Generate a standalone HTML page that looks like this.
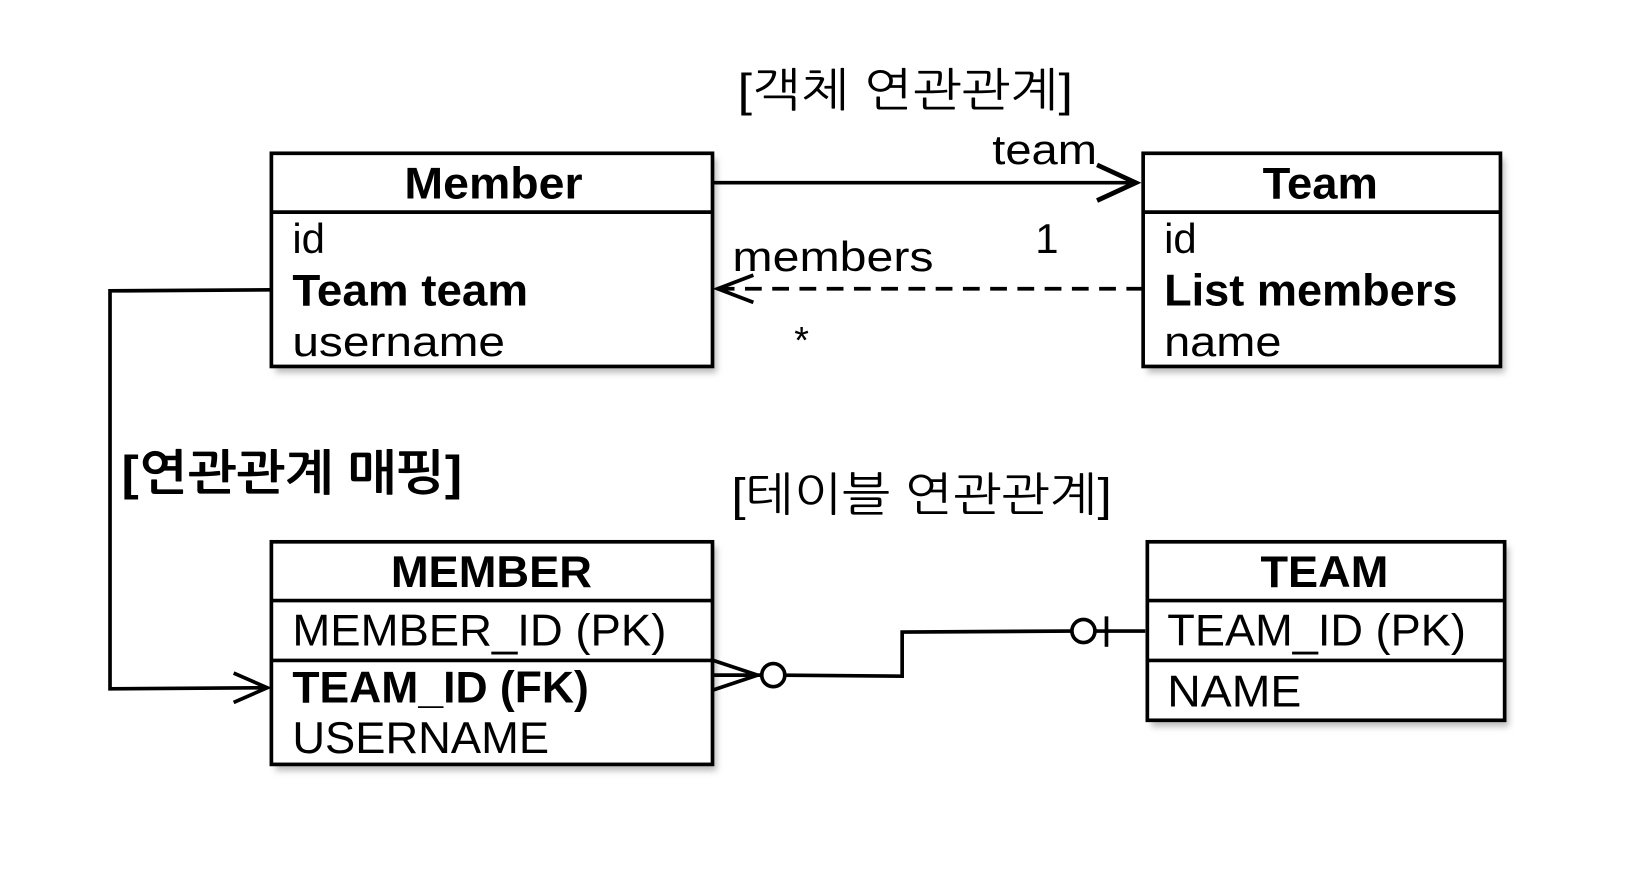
<!DOCTYPE html>
<html><head><meta charset="utf-8"><style>
html,body{margin:0;padding:0;background:#fff;}
svg{display:block;}
text{font-family:"Liberation Sans","NanumGothic","Noto Sans CJK KR",sans-serif;fill:#000;}
.b{font-weight:bold;}
</style></head><body>
<svg width="1644" height="882" viewBox="-1 -1 1569 840" preserveAspectRatio="none" xmlns="http://www.w3.org/2000/svg">
<defs><filter id="sh" x="-5%" y="-5%" width="115%" height="120%"><feGaussianBlur stdDeviation="3"/></filter></defs>
<g fill="#bbb" filter="url(#sh)">
<rect x="262" y="150" width="421" height="204"/>
<rect x="1094" y="150" width="341" height="204"/>
<rect x="262" y="520" width="421" height="213"/>
<rect x="1098" y="520" width="341" height="171"/>
</g>
<g fill="#fff" stroke="#000" stroke-width="3.5">
<rect x="258" y="145" width="421" height="203"/>
<rect x="1090" y="145" width="341" height="203"/>
<rect x="258" y="515" width="421" height="212"/>
<rect x="1094" y="515" width="341" height="170"/>
</g>
<g stroke="#000" stroke-width="3.5" fill="none">
<line x1="258" y1="201" x2="679" y2="201"/>
<line x1="1090" y1="201" x2="1431" y2="201"/>
<line x1="258" y1="571" x2="679" y2="571"/>
<line x1="258" y1="628" x2="679" y2="628"/>
<line x1="1094" y1="571" x2="1435" y2="571"/>
<line x1="1094" y1="628" x2="1435" y2="628"/>
<line x1="679" y1="173" x2="1083" y2="173"/>
<path d="M1046 156 L1083 173 L1046 190" stroke-width="4.5"/>
<line x1="1090" y1="274" x2="684" y2="274" stroke-dasharray="16,10"/>
<path d="M718 261 L684 274 L718 287"/>
<path d="M258 275 L104 276 L104 655 L253 654"/>
<path d="M222 640 L254 654 L222 668"/>
<path d="M680 628 L722 642 L680 656 M680 642 L726 642"/>
<circle cx="737" cy="642" r="11"/>
<path d="M748 642 L860 643 L860 601 L1022 600"/>
<circle cx="1033" cy="600" r="11"/>
<line x1="1055" y1="586" x2="1055" y2="615"/>
<line x1="1044" y1="600" x2="1092" y2="600"/>
</g>
<text x="863" y="100" font-size="44" text-anchor="middle" textLength="320" lengthAdjust="spacingAndGlyphs">[객체 연관관계]</text>
<text x="946" y="155" font-size="40" textLength="100" lengthAdjust="spacingAndGlyphs">team</text>
<text x="987" y="240" font-size="40">1</text>
<text x="698" y="257" font-size="40" textLength="192" lengthAdjust="spacingAndGlyphs">members</text>
<text x="757" y="335" font-size="36">*</text>
<text x="470" y="188" font-size="42" class="b" text-anchor="middle" textLength="170" lengthAdjust="spacingAndGlyphs">Member</text>
<text x="278" y="240" font-size="40">id</text>
<text x="278" y="290" font-size="42" class="b" textLength="225" lengthAdjust="spacingAndGlyphs">Team team</text>
<text x="278" y="338" font-size="40" textLength="203" lengthAdjust="spacingAndGlyphs">username</text>
<text x="1259" y="188" font-size="42" class="b" text-anchor="middle" textLength="110" lengthAdjust="spacingAndGlyphs">Team</text>
<text x="1110" y="240" font-size="40">id</text>
<text x="1110" y="290" font-size="42" class="b" textLength="280" lengthAdjust="spacingAndGlyphs">List members</text>
<text x="1110" y="338" font-size="40" textLength="112" lengthAdjust="spacingAndGlyphs">name</text>
<text x="115" y="465" font-size="46" class="b" textLength="325" lengthAdjust="spacingAndGlyphs">[연관관계 매핑]</text>
<text x="697" y="485" font-size="44" textLength="363" lengthAdjust="spacingAndGlyphs">[테이블 연관관계]</text>
<text x="468" y="558" font-size="42" class="b" text-anchor="middle" textLength="192" lengthAdjust="spacingAndGlyphs">MEMBER</text>
<text x="278" y="614" font-size="42" textLength="357" lengthAdjust="spacingAndGlyphs">MEMBER_ID (PK)</text>
<text x="278" y="668" font-size="42" class="b" textLength="283" lengthAdjust="spacingAndGlyphs">TEAM_ID (FK)</text>
<text x="278" y="716" font-size="42" textLength="245" lengthAdjust="spacingAndGlyphs">USERNAME</text>
<text x="1263" y="558" font-size="42" class="b" text-anchor="middle" textLength="122" lengthAdjust="spacingAndGlyphs">TEAM</text>
<text x="1113" y="614" font-size="42" textLength="285" lengthAdjust="spacingAndGlyphs">TEAM_ID (PK)</text>
<text x="1113" y="672" font-size="42" textLength="128" lengthAdjust="spacingAndGlyphs">NAME</text>
</svg>
</body></html>
